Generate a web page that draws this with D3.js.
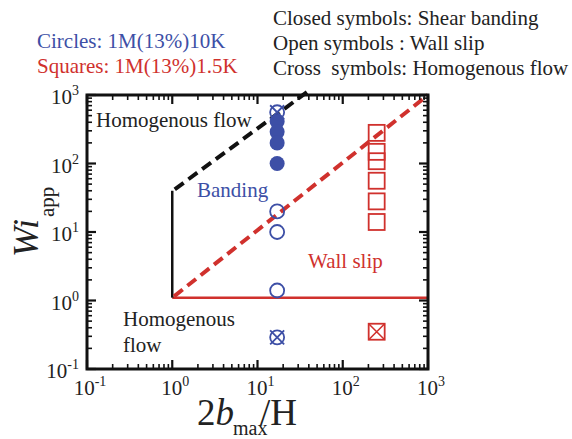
<!DOCTYPE html>
<html><head><meta charset="utf-8">
<script src="https://cdn.jsdelivr.net/npm/d3@7"></script>
<style>body{margin:0;background:#fff}svg{display:block}text{font-family:"Liberation Serif","Times New Roman",serif}</style>
</head><body><svg id="c" width="572" height="439"></svg>
<script>
// data
const xTicks = [0.1, 1, 10, 100, 1000];
const yTicks = [0.1, 1, 10, 100, 1000];
const tickExp = ["-1", "0", "1", "2", "3"];
const circleX = 17;
const circleClosedY = [410, 290, 200, 100];
const circleOpenY = [20, 10, 1.4];
const circleCrossY = [560, 0.29];
const squareX = 250;
const squareOpenY = [280, 148, 108, 56, 28, 14];
const squareCrossY = [0.35];
const wallSlipLine = [[1, 1.1], [1000, 1.1]];
const verticalLine = [[1, 1.1], [1, 40]];
const blackDash = [[1.07, 42], [38, 1100]];
const redDash = [[1.05, 1.15], [1000, 1000]];

const blue = "#3d4fa6", red = "#d0312d", ink = "#222";
const svg = d3.select("#c");
const L = 87, R = 428, T = 95, B = 369;
const x = d3.scaleLog().domain([0.1, 1000]).range([L, R]);
const y = d3.scaleLog().domain([0.1, 1000]).range([B, T]);

svg.append("clipPath").attr("id", "pc").append("rect").attr("x", L).attr("y", T - 4).attr("width", R - L).attr("height", B - T + 4);

const line = d3.line().x(d => x(d[0])).y(d => y(d[1]));
const g = svg.append("g");
g.append("path").attr("d", line(wallSlipLine)).attr("stroke", red).attr("stroke-width", 2.5).attr("fill", "none");
g.append("path").attr("d", line(verticalLine)).attr("stroke", "#111").attr("stroke-width", 2.5).attr("fill", "none");
g.append("path").attr("d", line(blackDash)).attr("stroke", "#111").attr("stroke-width", 4).attr("stroke-dasharray", "11,6").attr("fill", "none");
g.append("path").attr("d", line(redDash)).attr("stroke", red).attr("stroke-width", 4).attr("stroke-dasharray", "11,6").attr("fill", "none").attr("clip-path", "url(#pc)");

// circles
const cr = 7;
g.selectAll(".cc").data(circleClosedY).enter().append("circle")
  .attr("cx", x(circleX)).attr("cy", d => y(d)).attr("r", cr + 0.5).attr("fill", blue);
g.selectAll(".co").data(circleOpenY).enter().append("circle")
  .attr("cx", x(circleX)).attr("cy", d => y(d)).attr("r", cr).attr("fill", "none").attr("stroke", blue).attr("stroke-width", 1.8);
circleCrossY.forEach(v => {
  const cx = x(circleX), cy = y(v);
  g.append("circle").attr("cx", cx).attr("cy", cy).attr("r", cr).attr("fill", "none").attr("stroke", blue).attr("stroke-width", 1.8);
  const k = 7;
  g.append("path").attr("d", `M${cx-k},${cy-k}L${cx+k},${cy+k}M${cx+k},${cy-k}L${cx-k},${cy+k}`).attr("stroke", blue).attr("stroke-width", 1.8);
});
// squares
const s = 16;
g.selectAll(".so").data(squareOpenY).enter().append("rect")
  .attr("x", x(squareX) - s/2).attr("y", d => y(d) - s/2).attr("width", s).attr("height", s)
  .attr("fill", "none").attr("stroke", red).attr("stroke-width", 1.8);
squareCrossY.forEach(v => {
  const cx = x(squareX), cy = y(v);
  g.append("rect").attr("x", cx - s/2).attr("y", cy - s/2).attr("width", s).attr("height", s).attr("fill", "none").attr("stroke", red).attr("stroke-width", 1.8);
  const k = s/2;
  g.append("path").attr("d", `M${cx-k},${cy-k}L${cx+k},${cy+k}M${cx+k},${cy-k}L${cx-k},${cy+k}`).attr("stroke", red).attr("stroke-width", 1.6);
});

// frame & ticks
svg.append("rect").attr("x", L).attr("y", T).attr("width", R - L).attr("height", B - T).attr("fill", "none").attr("stroke", "#111").attr("stroke-width", 3);
const minors = [];
for (let e = -1; e < 3; e++) for (let m = 2; m <= 9; m++) minors.push(m * Math.pow(10, e));
const tk = svg.append("g").attr("stroke", "#111");
xTicks.forEach(v => {
  tk.append("line").attr("x1", x(v)).attr("x2", x(v)).attr("y1", B).attr("y2", B - 9).attr("stroke-width", 2.2);
  tk.append("line").attr("x1", x(v)).attr("x2", x(v)).attr("y1", T).attr("y2", T + 9).attr("stroke-width", 2.2);
});
yTicks.forEach(v => {
  tk.append("line").attr("y1", y(v)).attr("y2", y(v)).attr("x1", L).attr("x2", L + 9).attr("stroke-width", 2.2);
  tk.append("line").attr("y1", y(v)).attr("y2", y(v)).attr("x1", R).attr("x2", R - 9).attr("stroke-width", 2.2);
});
minors.forEach(v => {
  tk.append("line").attr("x1", x(v)).attr("x2", x(v)).attr("y1", B).attr("y2", B - 5).attr("stroke-width", 1.6);
  tk.append("line").attr("x1", x(v)).attr("x2", x(v)).attr("y1", T).attr("y2", T + 5).attr("stroke-width", 1.6);
  tk.append("line").attr("y1", y(v)).attr("y2", y(v)).attr("x1", L).attr("x2", L + 5).attr("stroke-width", 1.6);
  tk.append("line").attr("y1", y(v)).attr("y2", y(v)).attr("x1", R).attr("x2", R - 5).attr("stroke-width", 1.6);
});

// tick labels
xTicks.forEach((v, i) => {
  const t = svg.append("text").attr("x", x(v) + 3).attr("y", B + 26).attr("text-anchor", "middle").attr("font-size", 21).attr("fill", ink);
  t.append("tspan").text("10");
  t.append("tspan").attr("dy", -9).attr("font-size", 14).text(tickExp[i]);
});
yTicks.forEach((v, i) => {
  const t = svg.append("text").attr("x", L - 8).attr("y", y(v) + 9).attr("text-anchor", "end").attr("font-size", 21).attr("fill", ink);
  t.append("tspan").text("10");
  t.append("tspan").attr("dy", -9).attr("font-size", 14).text(tickExp[i]);
});

// axis titles
const xt = svg.append("text").attr("x", 197).attr("y", 425).attr("font-size", 37).attr("fill", ink);
xt.append("tspan").text("2");
xt.append("tspan").attr("font-style", "italic").text("b");
svg.append("text").attr("x", 233).attr("y", 435).attr("font-size", 20).attr("fill", ink).text("max");
svg.append("text").attr("x", 260).attr("y", 425).attr("font-size", 37).attr("fill", ink).text("/H");

const yt = svg.append("text").attr("transform", "translate(38,257) rotate(-90)").attr("font-size", 36).attr("fill", ink);
yt.append("tspan").attr("font-style", "italic").text("Wi");
yt.append("tspan").attr("font-size", 21).attr("dy", 16).attr("dx", 2).text("app");

// in-plot labels
svg.append("text").attr("x", 96).attr("y", 127).attr("font-size", 21).attr("fill", ink).text("Homogenous flow");
svg.append("text").attr("x", 197).attr("y", 197).attr("font-size", 21).attr("fill", blue).text("Banding");
svg.append("text").attr("x", 308).attr("y", 268).attr("font-size", 21).attr("fill", red).text("Wall slip");
svg.append("text").attr("x", 123).attr("y", 326).attr("font-size", 21).attr("fill", ink).text("Homogenous");
svg.append("text").attr("x", 123).attr("y", 352).attr("font-size", 21).attr("fill", ink).text("flow");

// legend text
svg.append("text").attr("x", 37).attr("y", 48).attr("font-size", 21).attr("fill", blue).text("Circles: 1M(13%)10K");
svg.append("text").attr("x", 37).attr("y", 73).attr("font-size", 21).attr("fill", red).text("Squares: 1M(13%)1.5K");
const rtxt = ["Closed symbols: Shear banding", "Open symbols : Wall slip", "Cross\u00a0 symbols: Homogenous flow"];
rtxt.forEach((t, i) => svg.append("text").attr("x", 273).attr("y", 25 + i * 25).attr("font-size", 21).attr("fill", ink).text(t));
</script></body></html>
